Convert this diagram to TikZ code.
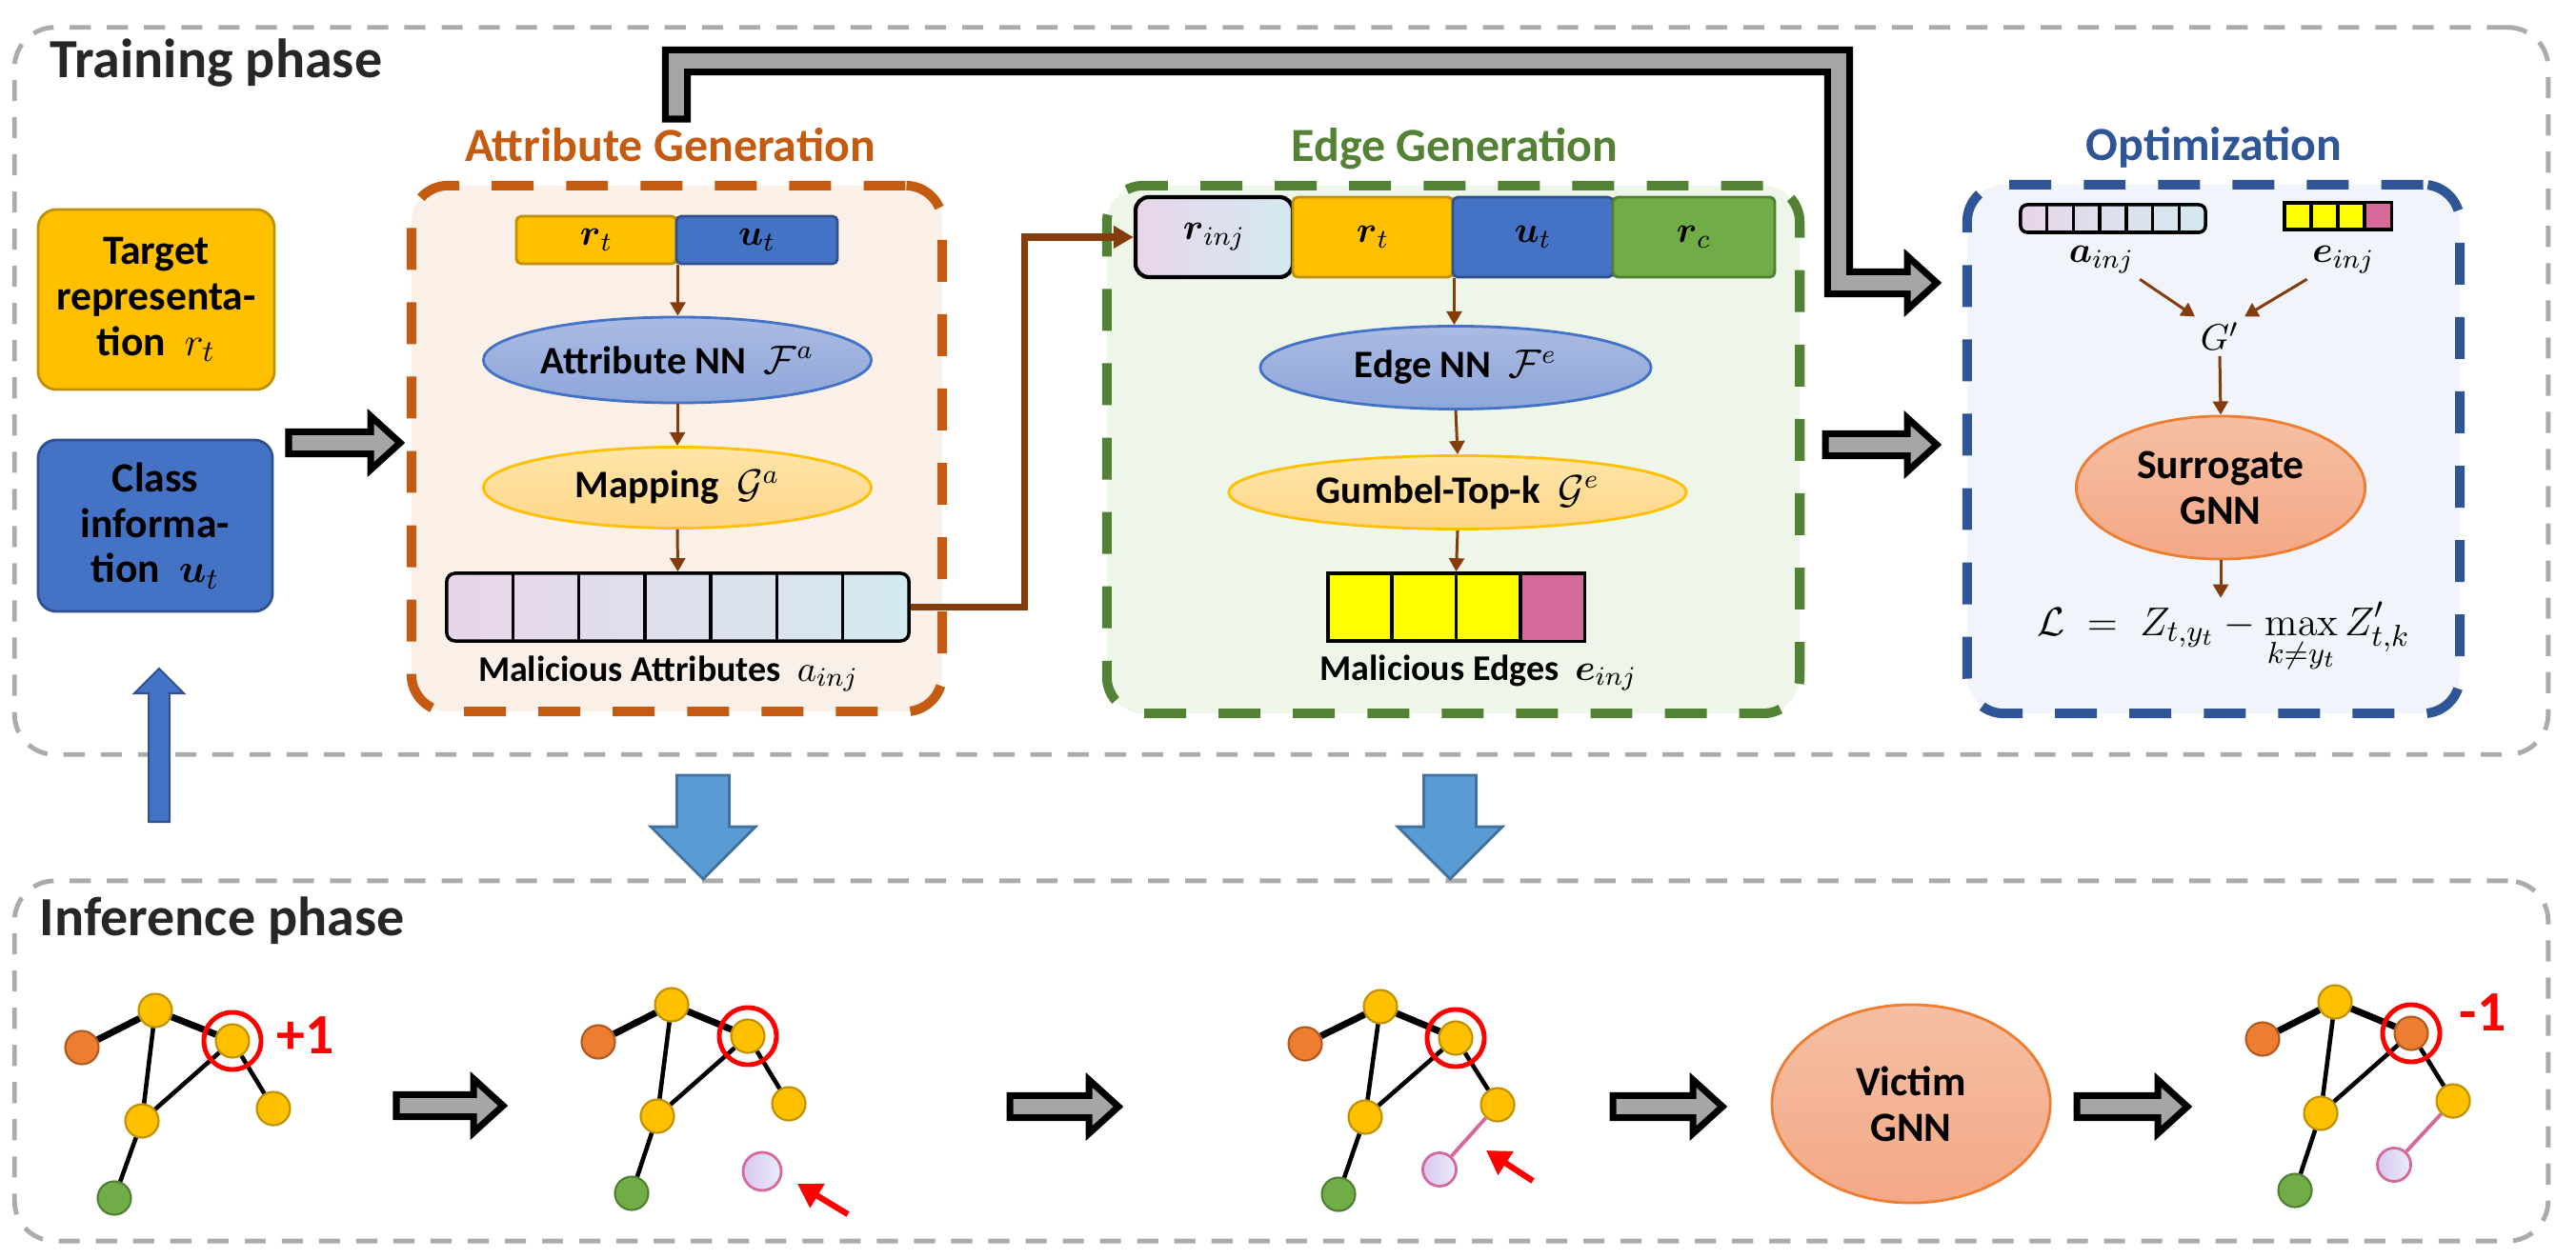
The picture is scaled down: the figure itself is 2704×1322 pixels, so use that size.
\documentclass[tikz,border=0pt]{standalone}
\usepackage{amsmath}
\usepackage[no-math]{fontspec}
\setmainfont{Carlito}
\usetikzlibrary{arrows.meta,shapes.geometric,calc}

\definecolor{attrorange}{HTML}{C55A11}
\definecolor{edgegreen}{HTML}{548235}
\definecolor{optblue}{HTML}{2F5597}
\definecolor{attrfill}{HTML}{FBF0E8}
\definecolor{edgefill}{HTML}{EEF5E9}
\definecolor{optfill}{HTML}{F1F5FB}
\definecolor{brownline}{HTML}{843C0C}
\definecolor{gold}{HTML}{FFC000}
\definecolor{golddark}{HTML}{BF9000}
\definecolor{accblue}{HTML}{4472C4}
\definecolor{accbluedark}{HTML}{2F528F}
\definecolor{accgreen}{HTML}{70AD47}
\definecolor{accgreendark}{HTML}{507E32}
\definecolor{accorange}{HTML}{ED7D31}
\definecolor{accorangedark}{HTML}{AE5A21}
\definecolor{edgepink}{HTML}{D5699A}
\definecolor{cellyellow}{HTML}{FFFF00}
\definecolor{lavend}{HTML}{E8D5EA}
\definecolor{paleblue}{HTML}{D3EAEF}
\definecolor{arrgray}{HTML}{A6A6A6}
\definecolor{framegray}{HTML}{ABABAB}
\definecolor{skyblue}{HTML}{5B9BD5}
\definecolor{skybluedark}{HTML}{41719C}
\definecolor{titlegray}{HTML}{262626}
\definecolor{nntop}{HTML}{AABBE3}
\definecolor{nnbot}{HTML}{8EA6DA}
\definecolor{maptop}{HTML}{FFE5A8}
\definecolor{mapbot}{HTML}{FFD68A}
\definecolor{gnntop}{HTML}{F5BFA3}
\definecolor{gnnbot}{HTML}{F4A886}
\definecolor{injleft}{HTML}{D9C7EF}
\definecolor{injright}{HTML}{E9ECFA}

\newcommand{\phasefont}{\fontsize{16.5pt}{20pt}\selectfont\bfseries}
\newcommand{\stagefont}{\fontsize{14.2pt}{17pt}\selectfont\bfseries}
\newcommand{\bodyfont}{\fontsize{10.8pt}{13.4pt}\selectfont\bfseries}
\newcommand{\boxfont}{\fontsize{12.4pt}{13.6pt}\selectfont\bfseries}
\newcommand{\ellfont}{\fontsize{11.6pt}{13.6pt}\selectfont\bfseries}
\newcommand{\fieldfont}{\fontsize{11pt}{13pt}\selectfont}
\newcommand{\lossfont}{\fontsize{13.1pt}{15pt}\selectfont}
\newcommand{\scorefont}{\fontsize{17pt}{20pt}\selectfont\bfseries}

\newcommand{\blockarrow}[2]{%
  \draw[blockarr] let \p1=(#1), \p2=(#2) in
    (\x1,{\y1+3.3pt}) -- ({\x2-8.8pt},{\y1+3.3pt}) -- ({\x2-8.8pt},{\y1+8pt})
    -- (\x2,\y1) -- ({\x2-8.8pt},{\y1-8pt}) -- ({\x2-8.8pt},{\y1-3.3pt})
    -- (\x1,{\y1-3.3pt}) -- cycle;}
\newcommand{\vblockarrow}[6]{%
  \draw[#1] let \p1=(#2), \p2=(#3) in
    ({\x1-#4},\y1) -- ({\x1-#4},{\y2-(#6)}) -- ({\x1-#5},{\y2-(#6)})
    -- (\x1,\y2) -- ({\x1+#5},{\y2-(#6)}) -- ({\x1+#4},{\y2-(#6)})
    -- ({\x1+#4},\y1) -- cycle;}

\tikzset{
  phasebox/.style={draw=framegray, line width=1.4pt, dash pattern=on 6.3pt off 4.8pt, rounded corners=12pt, inner sep=0pt},
  stagebox/.style={line width=2.85pt, dash pattern=on 12.5pt off 9.7pt, rounded corners=11pt, inner sep=0pt},
  phasetitle/.style={font=\phasefont, text=titlegray, inner sep=0pt},
  stagetitle/.style={font=\stagefont, inner sep=0pt},
  infobox/.style={rounded corners=5.5pt, line width=0.8pt, align=center, font=\boxfont, inner sep=0pt},
  fieldbox/.style={rounded corners=1.5pt, line width=0.8pt, inner sep=0pt, font=\fieldfont},
  nnell/.style={ellipse, draw=accblue, line width=0.8pt, top color=nntop, bottom color=nnbot, font=\ellfont, inner sep=0pt},
  mapell/.style={ellipse, draw=gold, line width=0.8pt, top color=maptop, bottom color=mapbot, font=\ellfont, inner sep=0pt},
  gnnell/.style={ellipse, draw=accorange, line width=0.8pt, top color=gnntop, bottom color=gnnbot, font=\boxfont, align=center, inner sep=0pt},
  cellbar/.style={draw=black, line width=1pt, inner sep=0pt},
  cellline/.style={draw=black, line width=1pt},
  bodytext/.style={font=\bodyfont, inner sep=0pt},
  fieldtext/.style={font=\fieldfont, inner sep=1.5pt},
  brownarr/.style={draw=brownline, line width=0.85pt, -{Triangle[length=4pt,width=4.5pt]}},
  brownlink/.style={draw=brownline, line width=2pt, -{Triangle[length=6pt,width=6.5pt]}},
  blockarr/.style={draw=black, fill=arrgray, line width=2pt, line join=miter},
  upblue/.style={draw=accbluedark, fill=accblue, line width=0.6pt},
  downblue/.style={draw=skybluedark, fill=skyblue, line width=0.8pt},
  gnode/.style={circle, inner sep=0pt, minimum size=0.35cm, line width=0.6pt},
  ynode/.style={gnode, fill=gold, draw=golddark},
  onode/.style={gnode, fill=accorange, draw=accorangedark},
  grnode/.style={gnode, fill=accgreen, draw=accgreendark},
  injnode/.style={gnode, draw=edgepink, line width=0.8pt, left color=injleft, right color=injright},
  targetring/.style={circle, draw=red, line width=1.4pt, minimum size=0.60cm, inner sep=0pt},
  gedge/.style={line width=1.3pt},
  gedgebold/.style={line width=2pt},
  pinkedge/.style={draw=edgepink, line width=1.1pt},
  redpointer/.style={draw=red, line width=1.8pt, -{Triangle[length=7pt,width=8pt]}},
  scoretext/.style={font=\scorefont, text=red, inner sep=0pt}
}

\begin{document}
\begin{tikzpicture}[x=0.01cm,y=-0.01cm]
  \useasboundingbox (0,0) rectangle (2704,1322);

  \node[phasebox, minimum width=26.58cm, minimum height=7.63cm] (train) at (1345,410.5) {};
  \node[phasebox, minimum width=26.58cm, minimum height=3.78cm] (infer) at (1345,1114) {};
  \node[phasetitle, anchor=base west] (traintitle) at (52,82) {Training phase};
  \node[phasetitle, anchor=base west] (infertitle) at (41,982) {Inference phase};

  \node[stagebox, draw=attrorange, fill=attrfill, minimum width=5.57cm, minimum height=5.52cm] (attr) at (710.5,471) {};
  \node[stagebox, draw=edgegreen, fill=edgefill, minimum width=7.27cm, minimum height=5.54cm] (edge) at (1525.5,472) {};
  \node[stagebox, draw=optblue, fill=optfill, minimum width=5.17cm, minimum height=5.55cm] (opt) at (2323.5,471.5) {};
  \node[stagetitle, text=attrorange, anchor=base] (attrtitle) at (703.5,170) {Attribute Generation};
  \node[stagetitle, text=edgegreen, anchor=base] (edgetitle) at (1527,170) {Edge Generation};
  \node[stagetitle, text=optblue, anchor=base] (opttitle) at (2324,169) {Optimization};

  \node[infobox, fill=gold, draw=golddark, minimum width=2.48cm, minimum height=1.89cm] (target) at (164,314.5) {Target\\representa-\\tion~~$r_t$};
  \node[infobox, fill=accblue, draw=accbluedark, minimum width=2.46cm, minimum height=1.80cm] (class) at (163,552) {Class\\informa-\\tion~~$\boldsymbol{u}_t$};

  \node[fieldbox, fill=gold, draw=golddark, minimum width=1.68cm, minimum height=0.50cm] (rt1) at (626,252) {$\boldsymbol{r}_t$};
  \node[fieldbox, fill=accblue, draw=accbluedark, minimum width=1.69cm, minimum height=0.50cm] (ut1) at (794.5,252) {$\boldsymbol{u}_t$};
  \node[nnell, minimum width=4.07cm, minimum height=0.90cm] (attnn) at (711,378) {Attribute NN~~$\mathcal{F}^a$};
  \node[mapell, minimum width=4.07cm, minimum height=0.85cm] (attmap) at (711,512) {Mapping~~$\mathcal{G}^a$};
  \node[cellbar, left color=lavend, right color=paleblue, rounded corners=2.5pt, minimum width=4.85cm, minimum height=0.71cm] (abar) at (711.5,637.5) {};
  \draw[cellline] (538.3,602) -- (538.3,673) (607.6,602) -- (607.6,673) (676.9,602) -- (676.9,673)
    (746.1,602) -- (746.1,673) (815.4,602) -- (815.4,673) (884.7,602) -- (884.7,673);
  \node[bodytext, anchor=base] (alabel) at (701.5,715) {Malicious Attributes~~$a_{inj}$};

  \node[fieldbox, left color=lavend, right color=paleblue, draw=black, line width=1.2pt, rounded corners=4pt, minimum width=1.65cm, minimum height=0.84cm] (rinj) at (1274.5,249) {$\boldsymbol{r}_{inj}$};
  \node[fieldbox, fill=gold, draw=golddark, minimum width=1.68cm, minimum height=0.84cm] (rt2) at (1441,249) {$\boldsymbol{r}_t$};
  \node[fieldbox, fill=accblue, draw=accbluedark, minimum width=1.68cm, minimum height=0.84cm] (ut2) at (1609,249) {$\boldsymbol{u}_t$};
  \node[fieldbox, fill=accgreen, draw=accgreendark, minimum width=1.70cm, minimum height=0.84cm] (rc) at (1778,249) {$\boldsymbol{r}_c$};
  \node[nnell, minimum width=4.10cm, minimum height=0.87cm] (edgenn) at (1528,386) {Edge NN~~$\mathcal{F}^e$};
  \node[mapell, minimum width=4.80cm, minimum height=0.77cm] (gumbel) at (1530,517) {Gumbel-Top-k~~$\mathcal{G}^e$};
  \node[cellbar, fill=cellyellow, minimum width=2.69cm, minimum height=0.71cm] (ebar) at (1528.5,637.5) {};
  \fill[edgepink] (1597.5,603.5) rectangle (1661.5,671.5);
  \draw[cellline] (1461,602) -- (1461,673) (1528.5,602) -- (1528.5,673) (1596,602) -- (1596,673);
  \node[bodytext, anchor=base] (elabel) at (1552,714) {Malicious Edges~~$\boldsymbol{e}_{inj}$};

  \node[cellbar, left color=lavend, right color=paleblue, rounded corners=2pt, minimum width=1.94cm, minimum height=0.29cm] (oabar) at (2218,229.5) {};
  \draw[cellline] (2148.7,215) -- (2148.7,244) (2176.4,215) -- (2176.4,244) (2204.1,215) -- (2204.1,244)
    (2231.9,215) -- (2231.9,244) (2259.6,215) -- (2259.6,244) (2287.3,215) -- (2287.3,244);
  \node[cellbar, fill=cellyellow, minimum width=1.12cm, minimum height=0.28cm] (oebar) at (2454,227) {};
  \fill[edgepink] (2483.5,214.5) rectangle (2508.5,239.5);
  \draw[cellline] (2426,213) -- (2426,241) (2454,213) -- (2454,241) (2482,213) -- (2482,241);
  \node[fieldtext, anchor=base] (oalabel) at (2206,276) {$\boldsymbol{a}_{inj}$};
  \node[fieldtext, anchor=base] (oelabel) at (2460,276) {$\boldsymbol{e}_{inj}$};
  \node[fieldtext, anchor=base] (gprime) at (2330,368) {$G'$};
  \node[gnnell, minimum width=3.03cm, minimum height=1.50cm] (surr) at (2331,512) {Surrogate\\GNN};
  \node[anchor=base, font=\lossfont, inner sep=1pt] (loss) at (2334,667) {$\displaystyle \mathcal{L} \;=\; Z_{t,y_t} - \max_{k\neq y_t} Z'_{t,k}$};

  \draw[brownarr] (rt1.south east) -- (rt1.south east |- attnn.north);
  \draw[brownarr] (attnn.south) -- (attmap.north);
  \draw[brownarr] (attmap.south) -- (abar.north);
  \draw[brownlink] (abar.east) -- ++(120,0) |- (rinj.west);
  \draw[brownarr] (rt2.south east) -- (rt2.south east |- edgenn.north);
  \draw[brownarr] (edgenn.south) -- (gumbel.north);
  \draw[brownarr] (gumbel.south) -- (ebar.north);
  \draw[brownarr] (oalabel.south east) -- (gprime.north west);
  \draw[brownarr] (oelabel.south west) -- (gprime.north east);
  \draw[brownarr] (gprime.south) -- (surr.north);
  \draw[brownarr] (surr.south) -- (surr.south |- loss.north);

  \coordinate (lin0) at (303,465);
  \coordinate (lin1) at (420,465);
  \blockarrow{lin0}{lin1}
  \coordinate (mid0) at (1916,467);
  \coordinate (mid1) at (2033,467);
  \blockarrow{mid0}{mid1}
  \coordinate (skip0) at (710,125);
  \coordinate (skipc) at (1930,64);
  \coordinate (skip1) at (2033,297);
  \draw[blockarr] let \p1=(skip0), \p2=(skipc), \p3=(skip1) in
    ({\x1-3.3pt},\y1) -- ({\x1-3.3pt},{\y2+3.3pt}) -- ({\x2+3.3pt},{\y2+3.3pt})
    -- ({\x2+3.3pt},{\y3+3.3pt}) -- ({\x3-8.8pt},{\y3+3.3pt}) -- ({\x3-8.8pt},{\y3+8pt})
    -- (\x3,\y3) -- ({\x3-8.8pt},{\y3-8pt}) -- ({\x3-8.8pt},{\y3-3.3pt})
    -- ({\x2-3.3pt},{\y3-3.3pt}) -- ({\x2-3.3pt},{\y2-3.3pt}) -- ({\x1+3.3pt},{\y2-3.3pt})
    -- ({\x1+3.3pt},\y1) -- cycle;

  \coordinate (cls0) at (167,863);
  \coordinate (cls1) at (167,702);
  \vblockarrow{upblue}{cls0}{cls1}{3.1pt}{7.4pt}{7.4pt}
  \coordinate (adown0) at (738,814);
  \coordinate (adown1) at (738,923);
  \vblockarrow{downblue}{adown0}{adown1}{7.8pt}{15.6pt}{-15.6pt}
  \coordinate (edown0) at (1522,814);
  \coordinate (edown1) at (1522,923);
  \vblockarrow{downblue}{edown0}{edown1}{7.8pt}{15.6pt}{-15.6pt}

  \node[ynode] (g1top) at (163,1061) {};
  \node[onode] (g1org) at (86,1100) {};
  \node[ynode] (g1tgt) at (244,1093) {};
  \node[ynode] (g1mid) at (149,1177) {};
  \node[ynode] (g1rgt) at (287,1164) {};
  \node[grnode] (g1grn) at (120,1258) {};
  \draw[gedgebold] (g1top) -- (g1org);
  \draw[gedgebold] (g1top) -- (g1tgt);
  \draw[gedge] (g1top) -- (g1mid);
  \draw[gedge] (g1tgt) -- (g1mid);
  \draw[gedge] (g1tgt) -- (g1rgt);
  \draw[gedge] (g1mid) -- (g1grn);
  \node[targetring] (g1ring) at (g1tgt) {};
  \node[scoretext] (g1score) at (321,1087) {+1};

  \node[ynode] (g2top) at (705,1055) {};
  \node[onode] (g2org) at (628,1094) {};
  \node[ynode] (g2tgt) at (785,1088) {};
  \node[ynode] (g2mid) at (690,1172) {};
  \node[ynode] (g2rgt) at (828,1159) {};
  \node[grnode] (g2grn) at (663,1253) {};
  \node[injnode, minimum size=0.40cm] (g2inj) at (800,1230) {};
  \draw[gedgebold] (g2top) -- (g2org);
  \draw[gedgebold] (g2top) -- (g2tgt);
  \draw[gedge] (g2top) -- (g2mid);
  \draw[gedge] (g2tgt) -- (g2mid);
  \draw[gedge] (g2tgt) -- (g2rgt);
  \draw[gedge] (g2mid) -- (g2grn);
  \node[targetring] (g2ring) at (g2tgt) {};
  \coordinate (g2ptr0) at (890,1275);
  \coordinate (g2ptr1) at (837,1243);
  \draw[redpointer] (g2ptr0) -- (g2ptr1);

  \node[ynode] (g3top) at (1449,1057) {};
  \node[onode] (g3org) at (1370,1096) {};
  \node[ynode] (g3tgt) at (1528,1090) {};
  \node[ynode] (g3mid) at (1433,1173) {};
  \node[ynode] (g3rgt) at (1572,1160) {};
  \node[grnode] (g3grn) at (1405,1254) {};
  \node[injnode] (g3inj) at (1511,1228) {};
  \draw[gedgebold] (g3top) -- (g3org);
  \draw[gedgebold] (g3top) -- (g3tgt);
  \draw[gedge] (g3top) -- (g3mid);
  \draw[gedge] (g3tgt) -- (g3mid);
  \draw[gedge] (g3tgt) -- (g3rgt);
  \draw[gedge] (g3mid) -- (g3grn);
  \draw[pinkedge] (g3rgt) -- (g3inj);
  \node[targetring] (g3ring) at (g3tgt) {};
  \coordinate (g3ptr0) at (1609,1240);
  \coordinate (g3ptr1) at (1560,1208);
  \draw[redpointer] (g3ptr0) -- (g3ptr1);

  \node[gnnell, minimum width=2.92cm, minimum height=2.08cm] (victim) at (2006,1159) {Victim\\GNN};

  \node[ynode] (g4top) at (2451,1052) {};
  \node[onode] (g4org) at (2375,1091) {};
  \node[onode] (g4tgt) at (2531,1085) {};
  \node[ynode] (g4mid) at (2436,1169) {};
  \node[ynode] (g4rgt) at (2575,1156) {};
  \node[grnode] (g4grn) at (2409,1250) {};
  \node[injnode] (g4inj) at (2513,1223) {};
  \draw[gedgebold] (g4top) -- (g4org);
  \draw[gedgebold] (g4top) -- (g4tgt);
  \draw[gedge] (g4top) -- (g4mid);
  \draw[gedge] (g4tgt) -- (g4mid);
  \draw[gedge] (g4tgt) -- (g4rgt);
  \draw[gedge] (g4mid) -- (g4grn);
  \draw[pinkedge] (g4rgt) -- (g4inj);
  \node[targetring] (g4ring) at (g4tgt) {};
  \node[scoretext] (g4score) at (2606,1063) {-1};

  \coordinate (step0) at (416,1161);
  \coordinate (step1) at (528,1161);
  \blockarrow{step0}{step1}
  \coordinate (step2) at (1060,1162);
  \coordinate (step3) at (1174,1162);
  \blockarrow{step2}{step3}
  \coordinate (step4) at (1693,1162);
  \coordinate (step5) at (1808,1162);
  \blockarrow{step4}{step5}
  \coordinate (step6) at (2180,1162);
  \coordinate (step7) at (2296,1162);
  \blockarrow{step6}{step7}
\end{tikzpicture}
\end{document}
